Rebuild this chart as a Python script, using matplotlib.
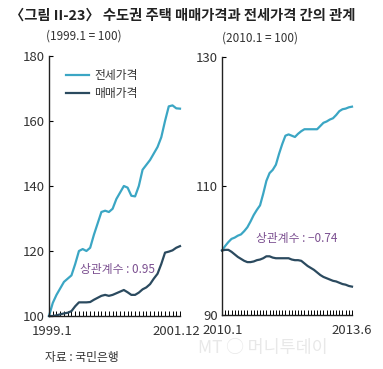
import numpy as np
import matplotlib.pyplot as plt

plt.rcParams['font.family'] = ['Noto Sans CJK KR', 'DejaVu Sans']

# 1999.1 ~ 2001.12 (monthly, 1999.1 = 100)
jeonse_a = [100, 104, 106.5, 108.5, 110.5, 111.5, 112.5, 116, 120, 120.6,
            120, 121, 125, 128.5, 132, 132.4, 132, 133, 136, 138,
            140, 139.5, 137, 136.8, 140, 145, 146.5, 148, 150, 152,
            155, 160, 164.5, 164.8, 163.9, 163.8]
sale_a = [100, 100, 100.2, 100.5, 100.8, 101, 101.5, 103, 104.2, 104.2,
          104.2, 104.3, 105, 105.6, 106.2, 106.5, 106.2, 106.5, 107, 107.5,
          108, 107.3, 106.5, 106.5, 107.2, 108.2, 108.8, 109.8, 111.5, 113,
          116, 119.5, 119.8, 120.2, 121, 121.5]

# 2010.1 ~ 2013.6 (monthly, 2010.1 = 100)
jeonse_b = [100, 100.7, 101.3, 101.8, 102, 102.3, 102.5, 103, 103.6, 104.5,
            105.5, 106.3, 107, 108.8, 110.8, 112, 112.5, 113.3, 115, 116.5,
            117.8, 118, 117.8, 117.6, 118.1, 118.5, 118.8, 118.8, 118.8, 118.8,
            118.8, 119.3, 119.8, 120, 120.3, 120.5, 121, 121.6, 121.9, 122,
            122.2, 122.3]
sale_b = [100, 100.1, 100.1, 99.8, 99.4, 99.0, 98.7, 98.4, 98.2, 98.2,
          98.3, 98.5, 98.6, 98.8, 99.1, 99.1, 98.9, 98.8, 98.8, 98.8,
          98.8, 98.8, 98.6, 98.5, 98.5, 98.4, 98.0, 97.6, 97.3, 97.0,
          96.6, 96.2, 95.9, 95.7, 95.5, 95.3, 95.2, 95.0, 94.8, 94.7,
          94.5, 94.4]

labels_a = ['1999.1', '2001.12']
labels_b = ['2010.1', '2013.6']
yticks_a = [100, 120, 140, 160, 180]
yticks_b = [90, 110, 130]

c_jeonse = '#3ba6c4'
c_sale = '#2b4a5f'
c_corr = '#7b4f90'
c_text = '#333333'

W, H = 383, 369
fig = plt.figure(figsize=(W / 100, H / 100), dpi=100)


def add_axes(x0, x1, y0, y1):
    return fig.add_axes([x0 / W, 1 - y1 / H, (x1 - x0) / W, (y1 - y0) / H])


def style(ax, n, yticks):
    for s in ['top', 'right']:
        ax.spines[s].set_visible(False)
    for s in ['left', 'bottom']:
        ax.spines[s].set_linewidth(1.0)
        ax.spines[s].set_color('#222222')
    ax.set_xlim(0, n - 1)
    ax.set_ylim(yticks[0], yticks[-1])
    ax.set_yticks(yticks)
    ax.tick_params(axis='y', direction='in', length=3, width=0.8,
                   labelsize=9.5, labelcolor=c_text, pad=3)
    ax.set_xticks(np.arange(n))
    ax.tick_params(axis='x', direction='in', length=3.5, width=0.7,
                   labelbottom=False)


ax1 = add_axes(49, 180, 56, 316)
n1 = len(jeonse_a)
x1 = np.arange(n1)
ax1.plot(x1, jeonse_a, color=c_jeonse, lw=1.6, label='전세가격', clip_on=False)
ax1.plot(x1, sale_a, color=c_sale, lw=1.6, label='매매가격', clip_on=False)
style(ax1, n1, yticks_a)
ax1.legend(loc='upper left', bbox_to_anchor=(0.05, 0.99), frameon=False,
           fontsize=8.5, handlelength=1.9, handletextpad=0.5, labelspacing=0.4,
           labelcolor=c_text)
ax1.text(8.2, 114.3, '상관계수 : 0.95', color=c_corr, fontsize=8.5, va='center')
ax1.text(-0.8, 186, '(1999.1 = 100)', fontsize=8.5, color=c_text, va='center')
ax1.text(0.8, 95.2, labels_a[0], fontsize=9.5, color=c_text, ha='center', va='center')
ax1.text(n1 - 2, 95.2, labels_a[1], fontsize=9.5, color=c_text, ha='center', va='center')

ax2 = add_axes(222, 352, 57, 315)
n2 = len(jeonse_b)
x2 = np.arange(n2)
ax2.plot(x2, jeonse_b, color=c_jeonse, lw=1.6, clip_on=False)
ax2.plot(x2, sale_b, color=c_sale, lw=1.6, clip_on=False)
style(ax2, n2, yticks_b)
ax2.text(10.8, 101.8, '상관계수 : −0.74', color=c_corr, fontsize=8.5, va='center')
ax2.text(0, 133, '(2010.1 = 100)', fontsize=8.5, color=c_text, va='center')
ax2.text(0.2, 87.6, labels_b[0], fontsize=9.5, color=c_text, ha='center', va='center')
ax2.text(n2 - 1, 87.6, labels_b[1], fontsize=9.5, color=c_text, ha='center', va='center')

fig.text(10 / W, 1 - 16 / H, '〈그림 II-23〉 수도권 주택 매매가격과 전세가격 간의 관계',
         fontsize=10.3, fontweight='bold', color='#222222', va='center')
fig.text(45 / W, 1 - 357 / H, '자료 : 국민은행', fontsize=8.5, color=c_text, va='center')
fig.text(198 / W, 1 - 348 / H, 'MT ◯ 머니투데이', fontsize=12.5, color='#e8e8e8',
         va='center', style='italic')

fig.savefig('out.png', dpi=100)
